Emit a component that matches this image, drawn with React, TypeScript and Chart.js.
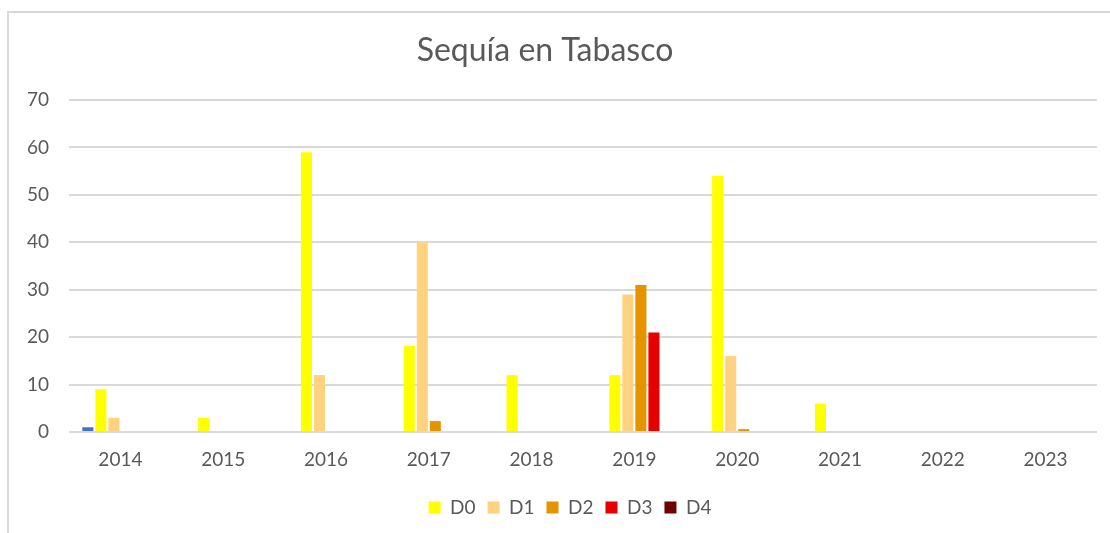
import React, { useEffect, useRef } from "react";
import { Chart, registerables } from "chart.js";
Chart.register(...registerables);

const years = ["2014", "2015", "2016", "2017", "2018", "2019", "2020", "2021", "2022", "2023"];
const seriesHidden = [1, 0, 0, 0, 0, 0, 0, 0, 0, 0];
const d0 = [9, 3, 59, 18.2, 12, 12, 54, 6, 0, 0];
const d1 = [3, 0, 12, 40, 0, 29, 16, 0, 0, 0];
const d2 = [0, 0, 0, 2.3, 0, 31, 0.6, 0, 0, 0];
const d3 = [0, 0, 0, 0, 0, 21, 0, 0, 0, 0];
const d4 = [0, 0, 0, 0, 0, 0, 0, 0, 0, 0];
const yTicks = [0, 10, 20, 30, 40, 50, 60, 70];

const FONT = "Lato";
const TEXT = "#595959";
const GRID = "#d9d9d9";

const shiftPlugin = {
  id: "shiftBlocks",
  afterLayout(chart: any) {
    if (chart.legend) {
      chart.legend.left += 11.5;
      chart.legend.right += 11.5;
    }
    if (chart.titleBlock) {
      chart.titleBlock.left -= 13.5;
      chart.titleBlock.right -= 13.5;
    }
  },
};

export default function App() {
  const ref = useRef<HTMLCanvasElement | null>(null);
  useEffect(() => {
    if (!ref.current) return;
    const chart = new Chart(ref.current, {
      type: "bar",
      data: {
        labels: years,
        datasets: [
          { label: "Serie1", data: seriesHidden, backgroundColor: "#4472C4" },
          { label: "D0", data: d0, backgroundColor: "#FFFF00" },
          { label: "D1", data: d1, backgroundColor: "#FFD27F" },
          { label: "D2", data: d2, backgroundColor: "#E59400" },
          { label: "D3", data: d3, backgroundColor: "#E60000" },
          { label: "D4", data: d4, backgroundColor: "#700000" },
        ],
      },
      plugins: [shiftPlugin],
      options: {
        responsive: false,
        animation: false,
        datasets: { bar: { categoryPercentage: 0.76, barPercentage: 0.85 } },
        layout: { padding: { left: 20, right: 13, top: 0, bottom: 6 } },
        plugins: {
          title: {
            display: true,
            text: "Sequía en Tabasco",
            color: TEXT,
            font: { family: FONT, size: 32, weight: "normal" },
            padding: { top: 31, bottom: 30.6 },
          },
          legend: {
            position: "bottom",
            labels: {
              filter: (item: any) => item.datasetIndex !== 0,
              boxWidth: 12,
              boxHeight: 12,
              padding: 12,
              color: TEXT,
              font: { family: FONT, size: 19 },
            },
          },
          tooltip: { enabled: false },
        },
        scales: {
          x: {
            grid: { display: false },
            border: { display: false },
            ticks: { color: TEXT, font: { family: FONT, size: 19 }, padding: 8 },
            afterFit: (s: any) => { s.height = 54; },
          },
          y: {
            min: 0,
            max: 70,
            afterBuildTicks: (s: any) => { s.ticks = yTicks.map((v) => ({ value: v })); },
            grid: { color: GRID, lineWidth: 2, drawTicks: false },
            border: { display: false },
            ticks: { color: TEXT, font: { family: FONT, size: 19 }, padding: 20 },
            afterFit: (s: any) => { s.width = 49; },
          },
        },
      },
    });
    return () => chart.destroy();
  }, []);
  return (
    <div style={{ position: "absolute", left: 0, top: 0, width: 1110, height: 533, overflow: "hidden", background: "#fff" }}>
      <div style={{ position: "absolute", left: 7, top: 11, width: 1200, height: 600, border: "2px solid #d9d9d9", boxSizing: "border-box" }} />
      <canvas ref={ref} width={1110} height={533} style={{ position: "absolute", left: 0, top: 0, display: "block" }} />
    </div>
  );
}
